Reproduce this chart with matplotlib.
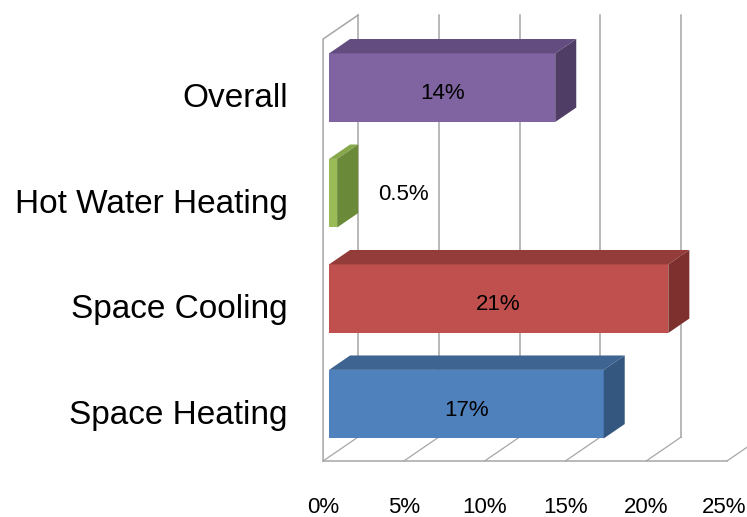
import matplotlib.pyplot as plt
from matplotlib.patches import Polygon

categories = ['Space Heating', 'Space Cooling', 'Hot Water Heating', 'Overall']
values = [17, 21, 0.5, 14]
value_labels = ['17%', '21%', '0.5%', '14%']
xticks = [0, 5, 10, 15, 20, 25]
xtick_labels = ['0%', '5%', '10%', '15%', '20%', '25%']

front_colors = ['#4F81BD', '#C0504D', '#9BBB59', '#8064A2']
top_colors = ['#3E6592', '#943C3A', '#86A84B', '#634D80']
side_colors = ['#34577F', '#7D302E', '#6A8A3A', '#4F3D66']

# oblique "3D" depth: one full depth unit moves (dx, dy) in data units
dx, dy = 2.17, 0.2275
d0, d1 = 0.17, 0.77      # bar front / back depth
bar_h = 0.65
floor, top = -0.5, 3.5
grid_col = '#A6A6A6'


def proj(x, y, d):
    return (x + d * dx, y + d * dy)


fig = plt.figure(figsize=(7.47, 5.17), dpi=100)
ax = fig.add_axes([0, 0, 1, 1])
ax.set_xlim(-20, 26.24)
ax.set_ylim(-1.031, 3.870)
ax.axis('off')

# left wall
xs, ys = zip(proj(0, floor, 0), proj(0, top, 0), proj(0, top, 1))
ax.plot(xs, ys, color=grid_col, lw=1.1, zorder=1)

# back wall gridlines + floor
for t in xticks:
    xs, ys = zip(proj(t, floor, 1), proj(t, top, 1))
    ax.plot(xs, ys, color=grid_col, lw=1.1, zorder=1)
    xs, ys = zip(proj(t, floor, 0), proj(t, floor, 1))
    ax.plot(xs, ys, color=grid_col, lw=0.9, zorder=1)
xs, ys = zip(proj(xticks[0], floor, 0), proj(xticks[-1], floor, 0))
ax.plot(xs, ys, color=grid_col, lw=1.1, zorder=1)

# bars
for i, v in enumerate(values):
    y0, y1 = i - bar_h / 2, i + bar_h / 2
    fx, fy = proj(0, y0, d0)
    ax.barh(fy + bar_h / 2, v, left=fx, height=bar_h,
            color=front_colors[i], zorder=3)
    top_face = [proj(0, y1, d0), proj(v, y1, d0), proj(v, y1, d1), proj(0, y1, d1)]
    ax.add_patch(Polygon(top_face, closed=True, color=top_colors[i], lw=0, zorder=3))
    side_face = [proj(v, y0, d0), proj(v, y1, d0), proj(v, y1, d1), proj(v, y0, d1)]
    ax.add_patch(Polygon(side_face, closed=True, color=side_colors[i], lw=0, zorder=3))

    cx, cy = proj(v / 2, i, d0)
    if v < 2:
        cx = proj(v, i, d0)[0] + 4.1
        cy += 0.05
    ax.text(cx, cy - 0.11, value_labels[i], ha='center', va='baseline',
            fontsize=16, family='Liberation Sans', zorder=4)

    ax.text(-2.2, i - 0.147, categories[i], ha='right', va='baseline',
            fontsize=24, family='Liberation Sans')

for t, lab in zip(xticks, xtick_labels):
    # last label sits right at the figure edge; nudge it in
    tx = min(t, 24.85)
    ax.text(tx, -0.99, lab, ha='center', va='baseline',
            fontsize=16, family='Liberation Sans')

fig.savefig('out.png', dpi=100)
